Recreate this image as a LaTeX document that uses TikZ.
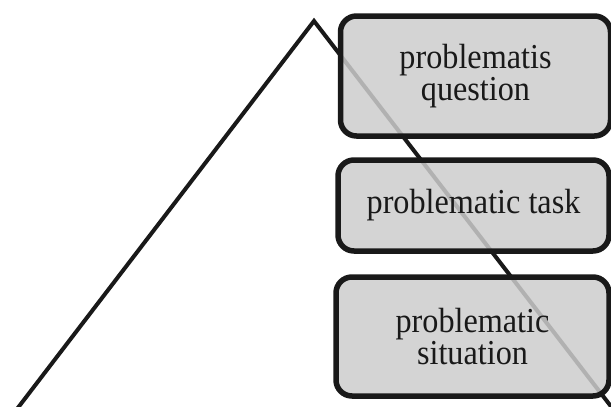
\documentclass[tikz,border=0pt]{standalone}
\usepackage{fontspec}
\setmainfont{Liberation Serif}
\newfontfamily\levelfont[FakeStretch=0.92]{Liberation Serif}
\usepackage{tikz}
\usetikzlibrary{positioning}

\begin{document}
\begin{tikzpicture} [x=1pt,y=-1pt,
            level/.style={draw=black!90,line width=5.5pt,rounded corners=16pt,
               fill=black!20,fill opacity=0.85,text opacity=1,
               minimum width=270pt,align=center,inner sep=0pt,
               text=black!90,font=\levelfont\fontsize{35}{28}\selectfont},
            side/.style={black!90,line width=4pt},
         every node/.append style={align=center}]
\useasboundingbox (0,0) rectangle (611,407);

%triangle
\coordinate (left) at (17,409);
\coordinate (apex) at (314,21);
\coordinate (right) at (613,409);
\draw[side,line join=miter] (left) -- (apex) -- (right);

%levels
\node (question) at (475.5,76) [level,minimum height=120pt]{problematis\\question};
\node (task) at (473.5,205.5) [level,minimum width=271pt,minimum height=91pt]{problematic task};
\node (situation) at (472.5,336.5) [level,minimum width=273pt,minimum height=119pt]{problematic\\situation};

\end{tikzpicture}
\end{document}
